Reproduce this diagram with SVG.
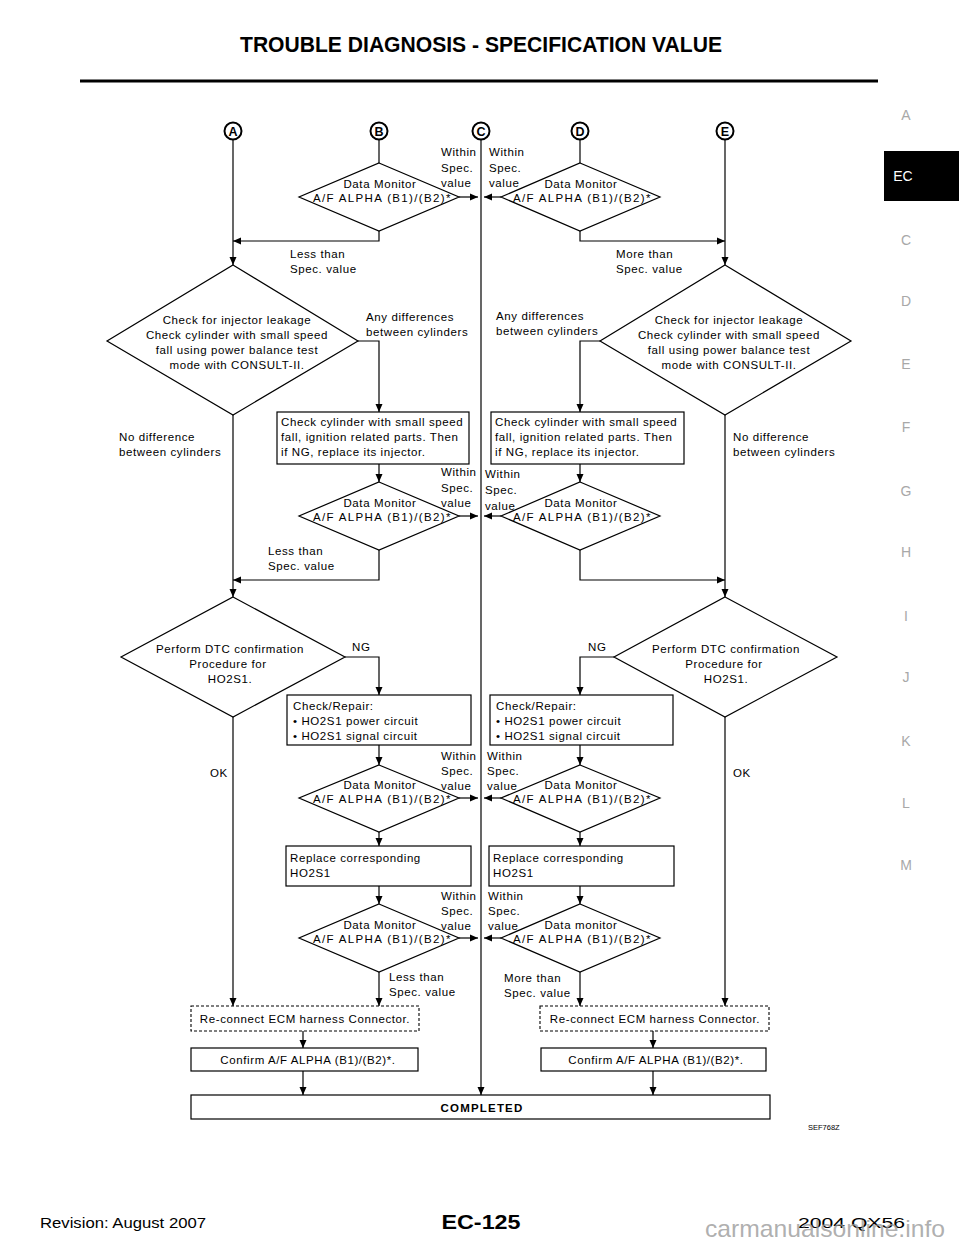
<svg xmlns="http://www.w3.org/2000/svg" width="960" height="1242" viewBox="0 0 960 1242">
<defs>
<style>
.t{font-family:"Liberation Sans",Arial,Helvetica,sans-serif;font-size:11.5px;letter-spacing:0.6px;fill:#000}
.m{text-anchor:middle}
.s{fill:#fff;stroke:#000;stroke-width:1.2}
.d{fill:#fff;stroke:#000;stroke-width:1.1;stroke-dasharray:3 2}
.c path{fill:none;stroke:#000;stroke-width:1.2}
.a{marker-end:url(#ar)}
.tab{font-family:"Liberation Sans",Arial,sans-serif;font-size:14px;fill:#a8a8a8;text-anchor:middle}
.lt{font-family:"Liberation Sans",Arial,sans-serif;font-size:12.5px;font-weight:bold;text-anchor:middle}
</style>
<marker id="ar" viewBox="0 0 8 8" refX="8" refY="4" markerWidth="8" markerHeight="8" markerUnits="userSpaceOnUse" orient="auto">
<path d="M0,0.5 L8,4 L0,7.5 Z" fill="#000"/>
</marker>
</defs>
<rect width="960" height="1242" fill="#fff"/>

<!-- header -->
<text x="481" y="52" text-anchor="middle" font-family="'Liberation Sans Narrow','Liberation Sans',Arial,sans-serif" font-weight="bold" font-size="22" textLength="482" lengthAdjust="spacingAndGlyphs">TROUBLE DIAGNOSIS - SPECIFICATION VALUE</text>
<line x1="80" y1="81" x2="878" y2="81" stroke="#000" stroke-width="3"/>

<!-- side tabs -->
<g id="tabs">
<text class="tab" x="906" y="120">A</text>
<rect x="884" y="151" width="75" height="50" fill="#000"/>
<text x="903" y="181" font-family="'Liberation Sans',Arial,sans-serif" font-size="14" fill="#fff" text-anchor="middle">EC</text>
<text class="tab" x="906" y="245">C</text>
<text class="tab" x="906" y="306">D</text>
<text class="tab" x="906" y="369">E</text>
<text class="tab" x="906" y="432">F</text>
<text class="tab" x="906" y="496">G</text>
<text class="tab" x="906" y="557">H</text>
<text class="tab" x="906" y="621">I</text>
<text class="tab" x="906" y="682">J</text>
<text class="tab" x="906" y="746">K</text>
<text class="tab" x="906" y="808">L</text>
<text class="tab" x="906" y="870">M</text>
</g>

<!-- connectors -->
<g id="connectors" class="c">
<path class="a" d="M233,139 V265"/>
<path d="M379,139 V163"/>
<path class="a" d="M481,139 V1095"/>
<path d="M580,139 V163"/>
<path class="a" d="M725,139 V265"/>
<path class="a" d="M459,197 H478"/>
<path class="a" d="M501,197 H484"/>
<path class="a" d="M379,231 V241 H233"/>
<path class="a" d="M580,231 V241 H725"/>

<path class="a" d="M358,341 H379 V412"/>
<path class="a" d="M600,341 H580 V412"/>
<path class="a" d="M233,415 V597"/>
<path class="a" d="M725,415 V597"/>
<path class="a" d="M379,464 V482"/>
<path class="a" d="M580,464 V482"/>
<path class="a" d="M459,516 H478"/>
<path class="a" d="M501,516 H484"/>
<path class="a" d="M379,550 V580 H233"/>
<path class="a" d="M580,550 V580 H725"/>

<path class="a" d="M345,657 H379 V695"/>
<path class="a" d="M614,657 H580 V695"/>
<path class="a" d="M233,717 V1006"/>
<path class="a" d="M725,717 V1006"/>
<path class="a" d="M379,745 V765"/>
<path class="a" d="M580,745 V765"/>
<path class="a" d="M459,798 H478"/>
<path class="a" d="M501,798 H484"/>
<path class="a" d="M379,832 V846"/>
<path class="a" d="M580,832 V846"/>
<path class="a" d="M379,886 V904"/>
<path class="a" d="M580,886 V904"/>
<path class="a" d="M459,938 H478"/>
<path class="a" d="M501,938 H484"/>
<path class="a" d="M379,972 V1006"/>
<path class="a" d="M580,972 V1006"/>
<path class="a" d="M303,1031 V1048"/>
<path class="a" d="M653,1031 V1048"/>
<path class="a" d="M303,1071 V1095"/>
<path class="a" d="M653,1071 V1095"/>
</g>

<!-- connector labels -->
<g id="labels" class="t">
<text x="441" y="156">Within</text><text x="441" y="172">Spec.</text><text x="441" y="187">value</text>
<text x="489" y="156">Within</text><text x="489" y="172">Spec.</text><text x="489" y="187">value</text>
<text x="290" y="258">Less than</text><text x="290" y="273">Spec. value</text>
<text x="616" y="258">More than</text><text x="616" y="273">Spec. value</text>
<text x="366" y="321">Any differences</text><text x="366" y="336">between cylinders</text>
<text x="496" y="320">Any differences</text><text x="496" y="335">between cylinders</text>
<text x="119" y="441">No difference</text><text x="119" y="456">between cylinders</text>
<text x="733" y="441">No difference</text><text x="733" y="456">between cylinders</text>
<text x="441" y="476">Within</text><text x="441" y="492">Spec.</text><text x="441" y="507">value</text>
<text x="485" y="478">Within</text><text x="485" y="494">Spec.</text><text x="485" y="510">value</text>
<text x="268" y="555">Less than</text><text x="268" y="570">Spec. value</text>
<text x="352" y="651">NG</text>
<text x="588" y="651">NG</text>
<text x="210" y="777">OK</text>
<text x="733" y="777">OK</text>
<text x="441" y="760">Within</text><text x="441" y="775">Spec.</text><text x="441" y="790">value</text>
<text x="487" y="760">Within</text><text x="487" y="775">Spec.</text><text x="487" y="790">value</text>
<text x="441" y="900">Within</text><text x="441" y="915">Spec.</text><text x="441" y="930">value</text>
<text x="488" y="900">Within</text><text x="488" y="915">Spec.</text><text x="488" y="930">value</text>
<text x="389" y="981">Less than</text><text x="389" y="996">Spec. value</text>
<text x="504" y="982">More than</text><text x="504" y="997">Spec. value</text>
</g>

<!-- circle connectors -->
<g id="nodeA"><circle cx="233" cy="131" r="8.5" fill="#fff" stroke="#000" stroke-width="2"/><text class="lt" x="233" y="135.5">A</text></g>
<g id="nodeB"><circle cx="379" cy="131" r="8.5" fill="#fff" stroke="#000" stroke-width="2"/><text class="lt" x="379" y="135.5">B</text></g>
<g id="nodeC"><circle cx="481" cy="131" r="8.5" fill="#fff" stroke="#000" stroke-width="2"/><text class="lt" x="481" y="135.5">C</text></g>
<g id="nodeD"><circle cx="580" cy="131" r="8.5" fill="#fff" stroke="#000" stroke-width="2"/><text class="lt" x="580" y="135.5">D</text></g>
<g id="nodeE"><circle cx="725" cy="131" r="8.5" fill="#fff" stroke="#000" stroke-width="2"/><text class="lt" x="725" y="135.5">E</text></g>

<!-- row 1 data monitor diamonds -->
<g id="dm1L"><polygon class="s" points="379,163 459,197 379,231 299,197"/>
<text class="t m" x="380" y="188">Data Monitor</text><text class="t m" x="382" y="202" textLength="138" lengthAdjust="spacing">A/F ALPHA (B1)/(B2)*</text></g>
<g id="dm1R"><polygon class="s" points="580,163 660,197 580,231 501,197"/>
<text class="t m" x="581" y="188">Data Monitor</text><text class="t m" x="582" y="202" textLength="138" lengthAdjust="spacing">A/F ALPHA (B1)/(B2)*</text></g>

<!-- injector check diamonds -->
<g id="injL"><polygon class="s" points="233,265 358,341 233,415 107,341"/>
<text class="t m" x="237" y="324">Check for injector leakage</text>
<text class="t m" x="237" y="339">Check cylinder with small speed</text>
<text class="t m" x="237" y="354">fall using power balance test</text>
<text class="t m" x="237" y="369">mode with CONSULT-II.</text></g>
<g id="injR"><polygon class="s" points="725,265 851,341 725,415 600,341"/>
<text class="t m" x="729" y="324">Check for injector leakage</text>
<text class="t m" x="729" y="339">Check cylinder with small speed</text>
<text class="t m" x="729" y="354">fall using power balance test</text>
<text class="t m" x="729" y="369">mode with CONSULT-II.</text></g>

<!-- ignition boxes -->
<g id="ignL"><rect class="s" x="277" y="412" width="192" height="52"/>
<text class="t" x="281" y="426">Check cylinder with small speed</text>
<text class="t" x="281" y="441">fall, ignition related parts. Then</text>
<text class="t" x="281" y="456">if NG, replace its injector.</text></g>
<g id="ignR"><rect class="s" x="491" y="412" width="193" height="52"/>
<text class="t" x="495" y="426">Check cylinder with small speed</text>
<text class="t" x="495" y="441">fall, ignition related parts. Then</text>
<text class="t" x="495" y="456">if NG, replace its injector.</text></g>

<!-- row 2 data monitor -->
<g id="dm2L"><polygon class="s" points="379,482 459,516 379,550 299,516"/>
<text class="t m" x="380" y="507">Data Monitor</text><text class="t m" x="382" y="521" textLength="138" lengthAdjust="spacing">A/F ALPHA (B1)/(B2)*</text></g>
<g id="dm2R"><polygon class="s" points="580,482 660,516 580,550 501,516"/>
<text class="t m" x="581" y="507">Data Monitor</text><text class="t m" x="582" y="521" textLength="138" lengthAdjust="spacing">A/F ALPHA (B1)/(B2)*</text></g>

<!-- DTC diamonds -->
<g id="dtcL"><polygon class="s" points="233,597 345,657 233,717 121,657"/>
<text class="t m" x="230" y="653">Perform DTC confirmation</text>
<text class="t m" x="228" y="668">Procedure for</text>
<text class="t m" x="230" y="683">HO2S1.</text></g>
<g id="dtcR"><polygon class="s" points="725,597 837,657 725,717 614,657"/>
<text class="t m" x="726" y="653">Perform DTC confirmation</text>
<text class="t m" x="724" y="668">Procedure for</text>
<text class="t m" x="726" y="683">HO2S1.</text></g>

<!-- check/repair boxes -->
<g id="repL"><rect class="s" x="287" y="695" width="184" height="50"/>
<text class="t" x="293" y="710">Check/Repair:</text>
<text class="t" x="293" y="725">• HO2S1 power circuit</text>
<text class="t" x="293" y="740">• HO2S1 signal circuit</text></g>
<g id="repR"><rect class="s" x="490" y="695" width="183" height="50"/>
<text class="t" x="496" y="710">Check/Repair:</text>
<text class="t" x="496" y="725">• HO2S1 power circuit</text>
<text class="t" x="496" y="740">• HO2S1 signal circuit</text></g>

<!-- row 3 data monitor -->
<g id="dm3L"><polygon class="s" points="379,765 459,798 379,832 299,798"/>
<text class="t m" x="380" y="789">Data Monitor</text><text class="t m" x="382" y="803" textLength="138" lengthAdjust="spacing">A/F ALPHA (B1)/(B2)*</text></g>
<g id="dm3R"><polygon class="s" points="580,765 660,798 580,832 501,798"/>
<text class="t m" x="581" y="789">Data Monitor</text><text class="t m" x="582" y="803" textLength="138" lengthAdjust="spacing">A/F ALPHA (B1)/(B2)*</text></g>

<!-- replace boxes -->
<g id="replL"><rect class="s" x="286" y="846" width="185" height="40"/>
<text class="t" x="290" y="862">Replace corresponding</text>
<text class="t" x="290" y="877">HO2S1</text></g>
<g id="replR"><rect class="s" x="489" y="846" width="185" height="40"/>
<text class="t" x="493" y="862">Replace corresponding</text>
<text class="t" x="493" y="877">HO2S1</text></g>

<!-- row 4 data monitor -->
<g id="dm4L"><polygon class="s" points="379,904 459,938 379,972 299,938"/>
<text class="t m" x="380" y="929">Data Monitor</text><text class="t m" x="382" y="943" textLength="138" lengthAdjust="spacing">A/F ALPHA (B1)/(B2)*</text></g>
<g id="dm4R"><polygon class="s" points="580,904 660,938 580,972 501,938"/>
<text class="t m" x="581" y="929">Data monitor</text><text class="t m" x="582" y="943" textLength="138" lengthAdjust="spacing">A/F ALPHA (B1)/(B2)*</text></g>

<!-- reconnect boxes -->
<g id="recL"><rect class="d" x="191" y="1006" width="228" height="25"/>
<text class="t m" x="305" y="1023">Re-connect ECM harness Connector.</text></g>
<g id="recR"><rect class="d" x="540" y="1006" width="229" height="25"/>
<text class="t m" x="655" y="1023">Re-connect ECM harness Connector.</text></g>

<!-- confirm boxes -->
<g id="cfmL"><rect class="s" x="191" y="1048" width="227" height="23"/>
<text class="t m" x="308" y="1064">Confirm A/F ALPHA (B1)/(B2)*.</text></g>
<g id="cfmR"><rect class="s" x="541" y="1048" width="225" height="23"/>
<text class="t m" x="656" y="1064">Confirm A/F ALPHA (B1)/(B2)*.</text></g>

<!-- completed -->
<g id="completed"><rect class="s" x="191" y="1095" width="579" height="24"/>
<text class="t m" x="482" y="1112" font-weight="bold" style="letter-spacing:1.2px">COMPLETED</text></g>

<text x="808" y="1130" font-family="'Liberation Sans',Arial,sans-serif" font-size="7.5">SEF768Z</text>

<!-- footer -->
<text x="40" y="1228" font-family="'Liberation Sans Narrow','Liberation Sans',Arial,sans-serif" font-size="15" textLength="166" lengthAdjust="spacingAndGlyphs">Revision: August 2007</text>
<text x="481" y="1229" text-anchor="middle" font-family="'Liberation Sans Narrow','Liberation Sans',Arial,sans-serif" font-weight="bold" font-size="21" textLength="79" lengthAdjust="spacingAndGlyphs">EC-125</text>
<text x="798" y="1228" font-family="'Liberation Sans Narrow','Liberation Sans',Arial,sans-serif" font-size="15" textLength="107" lengthAdjust="spacingAndGlyphs">2004 QX56</text>
<text x="705" y="1237" font-family="'Liberation Sans',Arial,sans-serif" font-size="24" fill="#9a9a9a" fill-opacity="0.8" textLength="240" lengthAdjust="spacingAndGlyphs">carmanualsonline.info</text>
</svg>
